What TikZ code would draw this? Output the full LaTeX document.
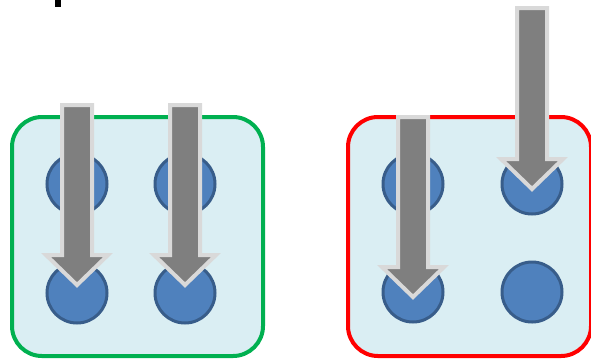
\documentclass[tikz,border=0pt]{standalone}
\definecolor{panelfill}{HTML}{DAEEF3}
\definecolor{okline}{HTML}{00B050}
\definecolor{badline}{HTML}{FF0000}
\definecolor{sitefill}{HTML}{4F81BD}
\definecolor{sitedraw}{HTML}{385D8A}
\definecolor{pushfill}{HTML}{7F7F7F}
\definecolor{pushdraw}{HTML}{D9D9D9}
% block arrow pointing down: {x}{top y}{tip y}
\newcommand{\pusharrow}[3]{%
  \draw[push] (#1-15,#2) -- (#1+15,#2) -- (#1+15,#3-30) -- (#1+31,#3-30)
    -- (#1,#3) -- (#1-31,#3-30) -- (#1-15,#3-30) -- cycle;}
\begin{document}
\begin{tikzpicture}[
    x=1pt, y=-1pt,
    panel/.style={line width=4pt, rounded corners=30pt, fill=panelfill},
    site/.style={circle, draw=sitedraw, fill=sitefill, line width=3pt,
      minimum size=60pt, inner sep=0pt},
    push/.style={fill=pushfill, draw=pushdraw, line width=4pt, line join=miter}
]
    \useasboundingbox (0,0) rectangle (591,360);

    % cut-off mark
    \fill (55,0) rectangle (61,7);

    % Panels
    \draw[panel, draw=okline]  (12,117) rectangle (263,356);
    \draw[panel, draw=badline] (348,117) rectangle (591,356);

    % Sites, left panel
    \node[site] (lt1) at (77,184)  {};
    \node[site] (lt2) at (185,184) {};
    \node[site] (lb1) at (77,293)  {};
    \node[site] (lb2) at (185,293) {};

    % Sites, right panel
    \node[site] (rt1) at (413,184) {};
    \node[site] (rt2) at (532,184) {};
    \node[site] (rb1) at (413,292) {};
    \node[site] (rb2) at (532,292) {};

    % Arrows
    \pusharrow{77}{105}{285}
    \pusharrow{185}{105}{285}
    \pusharrow{413}{117}{297}
    \pusharrow{532}{8}{189}
\end{tikzpicture}
\end{document}
